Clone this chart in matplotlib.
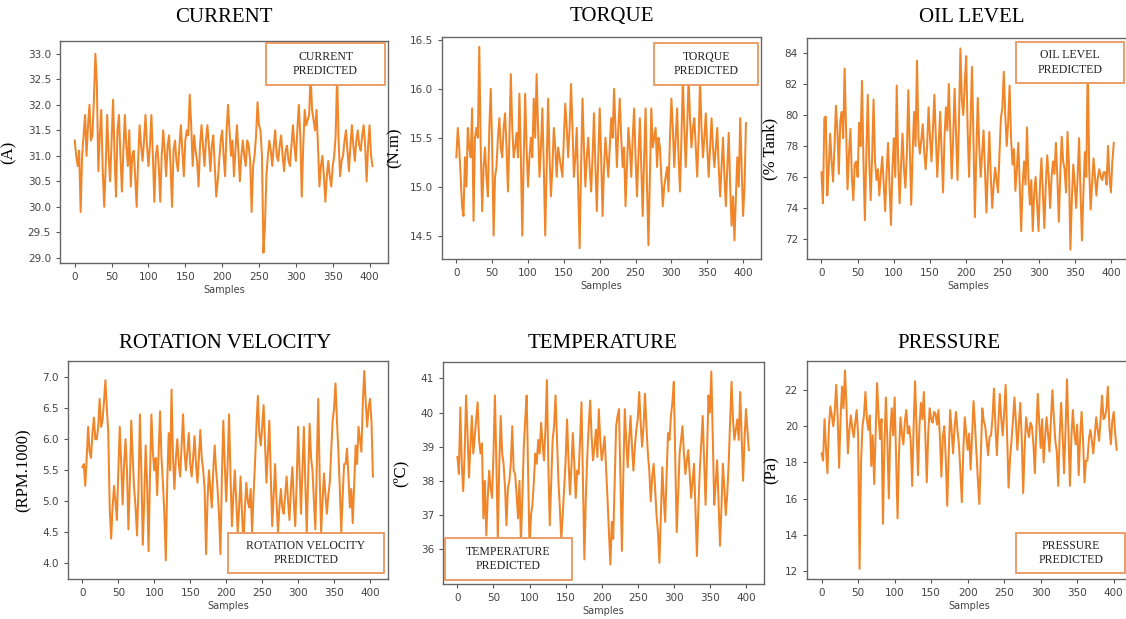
import numpy as np
import matplotlib
matplotlib.use("Agg")
import matplotlib.pyplot as plt
from matplotlib.patches import Rectangle

samples = list(range(0, 405, 2))

current = [31.3, 31.0, 30.8, 31.1, 29.9, 31.0, 31.4, 31.8, 31.0, 31.6,
           32.0, 31.3, 31.4, 32.1, 33.0, 32.4, 30.7, 31.4, 31.9, 30.7,
           30.0, 30.8, 31.8, 31.0, 30.5, 31.3, 32.1, 31.0, 30.2, 31.5,
           31.8, 31.0, 30.3, 31.1, 31.8, 31.2, 30.8, 31.5, 30.4, 31.0,
           31.1, 30.6, 30.0, 30.9, 31.6, 31.2, 30.9, 31.3, 31.8, 31.2,
           30.8, 31.2, 31.8, 31.0, 30.1, 31.0, 31.2, 30.8, 30.1, 31.0,
           31.5, 31.1, 30.6, 31.2, 31.4, 30.8, 30.0, 31.1, 31.3, 30.9,
           30.7, 31.2, 31.6, 31.1, 30.6, 31.3, 31.5, 31.4, 32.2, 31.6,
           30.8, 31.4, 31.1, 30.9, 30.4, 31.2, 31.6, 31.2, 30.8, 31.3,
           31.6, 31.2, 30.7, 31.2, 31.4, 30.8, 30.2, 30.5, 30.9, 31.3,
           31.5, 31.0, 30.6, 31.5, 32.0, 31.5, 31.0, 31.3, 30.6, 31.1,
           31.6, 31.1, 30.5, 31.0, 31.3, 31.0, 30.8, 31.3, 31.2, 30.9,
           29.9, 30.8, 31.0, 31.4, 32.05, 31.6, 31.5, 31.0, 29.1, 29.6,
           30.6, 31.0, 31.3, 31.1, 30.8, 31.2, 31.5, 31.0, 30.9, 31.2,
           31.4, 31.0, 30.7, 31.1, 31.2, 30.9, 30.8, 31.2, 31.6, 31.2,
           30.9, 31.5, 32.0, 31.4, 30.2, 31.2, 31.9, 31.6, 31.7, 31.8,
           32.6, 31.9, 31.7, 31.5, 31.9, 31.2, 30.4, 30.8, 31.0, 30.6,
           30.1, 30.6, 30.9, 30.6, 30.4, 30.8, 31.0, 31.4, 32.6, 31.3,
           30.6, 30.9, 31.0, 31.3, 31.5, 31.1, 30.7, 31.2, 31.6, 31.2,
           30.9, 31.3, 31.5, 31.2, 31.1, 31.4, 31.6, 31.2, 30.5, 31.2,
           31.6, 31.0, 30.8]

torque = [15.3, 15.6, 15.4, 15.1, 14.8, 14.7, 15.3, 15.0, 15.6, 15.4,
          15.3, 15.8, 14.65, 15.5, 15.6, 15.5, 16.43, 15.4, 14.75, 15.2,
          15.4, 15.1, 14.9, 15.6, 16.0, 15.4, 14.5, 15.1, 15.2, 15.5,
          15.7, 15.4, 15.3, 15.6, 15.75, 15.4, 14.95, 15.5, 16.15, 15.6,
          15.3, 15.4, 15.55, 15.3, 15.95, 15.3, 14.5, 15.3, 15.95, 15.4,
          15.0, 15.3, 15.5, 15.3, 15.9, 15.5, 16.15, 15.6, 15.1, 15.4,
          15.8, 15.2, 14.5, 15.2, 15.9, 15.3, 14.9, 15.2, 15.6, 15.4,
          15.1, 15.4, 15.3, 15.2, 15.1, 15.5, 15.85, 15.6, 15.3, 15.6,
          16.05, 15.6, 15.1, 15.3, 15.6, 15.0, 14.37, 15.2, 15.9, 15.4,
          15.0, 15.3, 15.5, 15.2, 14.95, 15.3, 15.75, 15.2, 14.75, 15.3,
          15.8, 15.3, 14.7, 15.2, 15.5, 15.3, 15.1, 15.4, 15.7, 15.5,
          16.0, 15.6, 15.2, 15.6, 15.9, 15.5, 15.2, 15.4, 14.8, 15.2,
          15.6, 15.4, 15.1, 15.5, 15.8, 15.3, 14.9, 15.3, 15.7, 15.2,
          14.7, 15.3, 15.8, 15.0, 14.4, 15.1, 15.8, 15.4, 15.5, 15.6,
          15.2, 15.5, 15.4, 15.1, 14.8, 15.0, 15.1, 15.2, 14.95, 15.5,
          15.9, 15.6, 15.2, 15.5, 15.8, 15.3, 14.95, 15.5, 16.1, 15.6,
          15.2, 15.6, 16.1, 15.7, 15.4, 15.6, 15.7, 15.4, 15.1, 15.5,
          16.1, 15.6, 15.3, 15.5, 15.75, 15.4, 15.1, 15.4, 15.7, 15.4,
          15.2, 15.4, 15.6, 15.2, 14.9, 15.2, 15.5, 15.1, 14.8, 15.2,
          15.55, 15.0, 14.6, 14.9, 14.45, 14.9, 15.3, 15.0, 15.7, 15.2,
          14.7, 15.0, 15.65]

oil_level = [76.3, 74.3, 79.8, 79.9, 74.8, 76.5, 78.8, 77.0, 75.7, 78.0,
             80.6, 79.0, 76.2, 79.6, 80.2, 78.5, 83.0, 79.2, 75.2, 77.5,
             79.1, 76.0, 74.5, 76.8, 77.0, 76.0, 79.5, 78.0, 82.2, 77.0,
             73.2, 77.5, 81.3, 77.0, 74.5, 77.3, 81.0, 77.0, 75.8, 76.5,
             74.8, 76.2, 77.3, 75.5, 73.8, 76.3, 78.2, 75.5, 72.9, 76.4,
             78.5, 76.0, 81.9, 77.0, 74.3, 76.8, 78.8, 76.5, 75.3, 77.5,
             81.6, 77.8, 74.2, 77.6, 80.2, 78.0, 83.5, 78.5, 77.5, 78.4,
             79.4, 77.6, 76.5, 78.0, 80.5, 78.6, 77.0, 79.0, 81.3, 78.6,
             76.0, 78.0, 80.2, 77.7, 75.0, 78.5, 80.5, 79.0, 82.0, 79.0,
             75.9, 78.5, 81.7, 78.8, 75.8, 79.5, 84.3, 81.0, 80.0, 82.0,
             83.8, 79.0, 76.0, 79.5, 83.1, 78.5, 73.4, 77.5, 81.1, 78.0,
             76.0, 77.5, 79.0, 76.3, 73.7, 76.5, 78.9, 76.0, 74.0, 75.5,
             76.6, 75.8, 75.0, 77.5, 79.8, 80.5, 82.8, 80.0, 78.0, 79.5,
             81.9, 78.5, 76.8, 77.8, 75.1, 76.5, 78.2, 75.5, 72.5, 75.5,
             77.0, 75.5, 79.2, 76.0, 74.2, 75.8, 72.5, 75.0, 76.0, 74.2,
             72.5, 75.5, 77.2, 75.0, 72.7, 75.5, 77.4, 76.0, 74.0, 76.0,
             77.0, 76.2, 78.2, 76.0, 73.1, 76.2, 78.6, 77.0, 76.5, 75.0,
             78.9, 76.8, 71.3, 74.5, 76.8, 75.5, 74.0, 76.0, 78.5, 75.0,
             71.9, 75.0, 77.6, 76.0, 83.5, 76.5, 73.9, 75.5, 77.2, 76.0,
             74.8, 76.0, 76.5, 76.0, 75.8, 76.3, 76.3, 75.5, 78.0, 76.0,
             75.0, 77.0, 78.2]

rotation = [5.55, 5.6, 5.25, 5.7, 6.2, 5.8, 5.7, 6.1, 6.35, 6.0,
            6.0, 6.2, 6.65, 6.2, 6.3, 6.6, 6.95, 6.5, 6.1, 4.9,
            4.4, 4.9, 5.25, 5.0, 4.7, 5.5, 6.2, 5.6, 4.95, 5.6,
            6.0, 5.5, 4.55, 5.3, 6.3, 5.7, 5.2, 4.9, 4.45, 5.2,
            6.4, 5.5, 4.3, 5.0, 5.9, 5.3, 4.2, 5.4, 6.4, 5.8,
            5.5, 5.7, 5.1, 5.8, 6.45, 5.7, 5.3, 4.8, 4.05, 5.3,
            6.1, 5.5, 6.8, 5.7, 5.2, 5.7, 6.0, 5.6, 5.4, 5.9,
            6.4, 5.8, 5.5, 5.8, 6.1, 5.6, 5.4, 5.7, 6.05, 5.6,
            5.3, 5.7, 6.15, 5.7, 5.5, 5.2, 4.15, 5.0, 5.5, 5.2,
            4.9, 5.5, 5.9, 5.5, 5.2, 4.8, 4.15, 5.4, 6.3, 5.6,
            5.0, 5.6, 6.4, 5.4, 4.6, 5.1, 5.5, 5.0, 4.5, 4.9,
            5.4, 4.8, 4.3, 4.9, 5.3, 5.0, 4.9, 5.2, 4.5, 5.1,
            5.6, 6.2, 6.7, 6.1, 5.9, 6.2, 6.55, 5.9, 5.3, 5.8,
            6.3, 5.4, 4.6, 5.1, 5.6, 5.0, 4.5, 4.9, 5.2, 4.9,
            4.8, 5.1, 5.4, 5.0, 4.7, 5.2, 5.55, 5.0, 4.6, 5.3,
            6.2, 5.5, 4.8, 5.5, 6.2, 5.3, 4.5, 5.4, 6.25, 5.7,
            5.5, 5.0, 4.55, 5.6, 6.65, 5.4, 4.5, 5.0, 5.45, 5.1,
            4.8, 5.1, 5.3, 5.8, 6.3, 6.5, 6.9, 6.3, 5.8, 5.2,
            4.5, 5.1, 5.6, 5.6, 5.85, 5.4, 4.9, 5.2, 4.65, 5.3,
            5.9, 5.6, 6.2, 6.0, 5.8, 6.6, 7.1, 6.6, 6.2, 6.5,
            6.65, 6.3, 5.4]

temperature = [38.7, 38.2, 40.15, 38.5, 37.7, 38.8, 40.5, 39.4, 38.1, 39.0,
               39.9, 38.8, 39.3, 39.8, 40.3, 39.2, 38.8, 39.1, 36.9, 38.0,
               36.4, 37.5, 38.3, 37.8, 37.5, 38.8, 40.5, 38.5, 36.3, 38.5,
               39.9, 38.8, 38.5, 37.8, 36.7, 37.8, 38.0, 38.5, 39.6, 38.3,
               38.2, 37.6, 36.9, 38.0, 36.2, 37.5, 39.0, 39.8, 40.5, 38.2,
               36.0, 37.0, 37.3, 38.0, 38.8, 38.5, 39.2, 38.8, 39.7, 39.1,
               38.6, 39.5, 40.95, 38.5, 36.7, 38.0, 39.2, 39.6, 40.5, 39.2,
               38.0, 37.2, 36.3, 37.0, 37.8, 38.6, 39.8, 38.6, 37.6, 38.4,
               39.4, 38.5, 37.5, 38.3, 38.2, 39.2, 40.3, 38.0, 35.7, 37.5,
               38.7, 39.6, 40.35, 39.3, 38.6, 39.0, 39.5, 38.7, 40.1, 39.2,
               38.6, 38.9, 39.3, 38.4, 37.5, 36.5, 35.55, 36.8, 36.3, 38.0,
               39.6, 39.9, 40.1, 38.0, 35.95, 38.2, 40.1, 39.2, 38.4, 39.2,
               39.9, 39.0, 38.3, 39.0, 39.5, 39.8, 40.6, 39.7, 39.0, 39.6,
               40.55, 39.6, 38.8, 38.3, 37.4, 38.1, 38.5, 37.8, 37.0, 36.5,
               35.6, 37.0, 38.4, 37.5, 36.8, 38.2, 39.4, 39.2, 39.9, 40.3,
               40.9, 38.6, 36.5, 37.6, 38.8, 39.2, 39.6, 38.8, 38.2, 38.6,
               38.9, 38.2, 37.5, 38.0, 38.5, 37.2, 35.8, 37.2, 38.3, 39.1,
               39.9, 38.6, 37.3, 38.8, 40.5, 40.0, 41.2, 39.2, 37.3, 37.9,
               38.6, 37.4, 36.1, 37.2, 38.5, 37.8, 37.0, 37.6, 38.5, 39.7,
               40.9, 39.8, 39.2, 39.5, 39.8, 39.2, 40.6, 39.3, 38.0, 39.2,
               40.1, 39.5, 38.9]

pressure = [18.5, 18.1, 20.4, 18.8, 17.4, 20.0, 21.1, 20.6, 20.0, 20.8,
            22.3, 20.5, 17.7, 20.5, 22.2, 21.0, 23.1, 21.2, 18.5, 19.8,
            20.6, 19.9, 19.4, 20.2, 20.9, 19.5, 12.1, 18.0, 20.0, 20.6,
            21.9, 20.4, 19.8, 20.6, 17.8, 19.5, 16.8, 19.5, 22.4, 20.6,
            19.3, 20.4, 14.6, 19.0, 21.6, 19.2, 16.0, 19.6, 21.0, 19.5,
            21.6, 18.3, 14.9, 18.5, 20.5, 19.6, 19.0, 20.3, 20.9, 19.6,
            20.0, 19.2, 16.7, 20.0, 22.5, 19.8, 17.3, 20.0, 21.3, 20.4,
            21.9, 19.5, 16.9, 19.6, 21.0, 20.4, 20.2, 20.8, 20.7, 20.1,
            20.9, 19.4, 17.2, 19.4, 20.0, 18.2, 15.6, 18.4, 20.9, 19.8,
            18.5, 19.9, 20.8, 19.8, 19.0, 17.5, 15.8, 18.6, 20.5, 19.6,
            18.7, 19.6, 17.6, 19.4, 21.4, 20.1, 18.5, 17.0, 15.7, 18.4,
            21.0, 20.3, 20.0, 19.2, 18.4, 19.4, 19.5, 20.5, 22.1, 20.0,
            18.4, 20.2, 21.8, 20.4, 19.5, 20.8, 22.3, 19.4, 16.6, 18.2,
            19.2, 20.3, 21.6, 20.3, 18.7, 20.0, 21.3, 19.4, 16.3, 18.8,
            20.5, 19.8, 19.4, 20.2, 20.0, 19.0, 17.4, 19.8, 21.8, 20.2,
            18.8, 20.4, 18.0, 19.4, 20.5, 19.6, 18.6, 20.4, 22.0, 20.5,
            19.2, 18.6, 16.7, 19.5, 21.3, 19.5, 17.4, 19.8, 22.6, 19.6,
            16.7, 19.4, 20.9, 19.6, 19.0, 20.1, 17.3, 19.4, 20.8, 19.2,
            16.9, 18.1, 18.1, 19.3, 19.8, 19.2, 18.5, 19.5, 20.5, 19.8,
            19.2, 20.4, 21.7, 20.4, 20.5, 21.0, 22.2, 20.0, 19.0, 20.3,
            20.8, 19.6, 18.7]

titles = ["CURRENT", "TORQUE", "OIL LEVEL", "ROTATION VELOCITY", "TEMPERATURE", "PRESSURE"]
ylabels = ["(A)", "(N.m)", "(% Tank)", "(RPM.1000)", "(\u00baC)", "(Pa)"]
legend_texts = ["CURRENT\nPREDICTED", "TORQUE\nPREDICTED", "OIL LEVEL\nPREDICTED",
                "ROTATION VELOCITY\nPREDICTED", "TEMPERATURE\nPREDICTED", "PRESSURE\nPREDICTED"]
series = [current, torque, oil_level, rotation, temperature, pressure]
yticks = [np.arange(29.0, 33.01, 0.5), np.arange(14.5, 16.51, 0.5), np.arange(72, 85, 2),
          np.arange(4.0, 7.01, 0.5), np.arange(36, 42, 1), np.arange(12, 23, 2)]
ylims = [(28.9, 33.25), (14.26, 16.53), (70.7, 84.97), (3.75, 7.26), (34.98, 41.48), (11.54, 23.62)]
ytick_fmt = ["%.1f", "%.1f", "%d", "%.1f", "%d", "%d"]

W, H = 1126, 619
# axes boxes in pixels: left, top, right, bottom
boxes_px = [(60, 41, 388, 263), (442, 37, 761, 259), (807, 38, 1129, 259),
            (68, 361, 388, 579), (443, 362, 764, 584), (807, 361, 1132, 579)]
title_px = [(224, 17), (612, 17), (972, 17), (225, 343), (602, 343), (949, 343)]
ylabel_x = [-0.131, -0.122, -0.09, -0.1125, -0.106, -0.085]
# legend boxes in axes fraction: x0, x1, y0, y1
leg_boxes = [(0.628, 0.991, 0.802, 0.991), (0.665, 0.991, 0.784, 0.973),
             (0.649, 0.984, 0.796, 0.982), (0.50, 0.9875, 0.028, 0.211),
             (0.006, 0.402, 0.018, 0.207), (0.643, 0.98, 0.028, 0.211)]

line_color = "#f0862a"
box_color = "#e9955e"
serif = ["Liberation Serif", "DejaVu Serif"]

fig = plt.figure(figsize=(W / 100, H / 100), dpi=100)
fig.patch.set_facecolor("white")

for i in range(6):
    l, t, r, b = boxes_px[i]
    ax = fig.add_axes([l / W, 1 - b / H, (r - l) / W, (b - t) / H])
    ax.plot(samples, series[i], color=line_color, linewidth=1.45, zorder=2)
    ax.set_xlim(-20, 425)
    ax.set_ylim(*ylims[i])
    ax.set_xticks(np.arange(0, 401, 50))
    ax.set_yticks(yticks[i])
    ax.set_yticklabels([ytick_fmt[i] % v for v in yticks[i]])
    ax.tick_params(labelsize=7.5, colors="#555555", labelcolor="#444444", length=3, width=0.8)
    for sp in ax.spines.values():
        sp.set_color("#666666")
        sp.set_linewidth(1.0)
    ax.set_xlabel("Samples", fontsize=7, color="#444444", labelpad=2)
    ax.set_ylabel(ylabels[i], fontsize=12, family=serif, color="black")
    ax.yaxis.set_label_coords(ylabel_x[i], 0.5)
    x0, x1, y0, y1 = leg_boxes[i]
    ax.add_patch(Rectangle((x0, y0), x1 - x0, y1 - y0, transform=ax.transAxes,
                           facecolor="white", edgecolor=box_color, linewidth=1.3,
                           zorder=5, clip_on=False))
    ax.text((x0 + x1) / 2, (y0 + y1) / 2, legend_texts[i], transform=ax.transAxes,
            ha="center", va="center", fontsize=8.5, family=serif, color="#222222",
            linespacing=1.25, zorder=6)
    tx, ty = title_px[i]
    fig.text(tx / W, 1 - ty / H, titles[i], ha="center", va="center",
             fontsize=15, family=serif, color="black")

fig.savefig("out.png", dpi=100)
